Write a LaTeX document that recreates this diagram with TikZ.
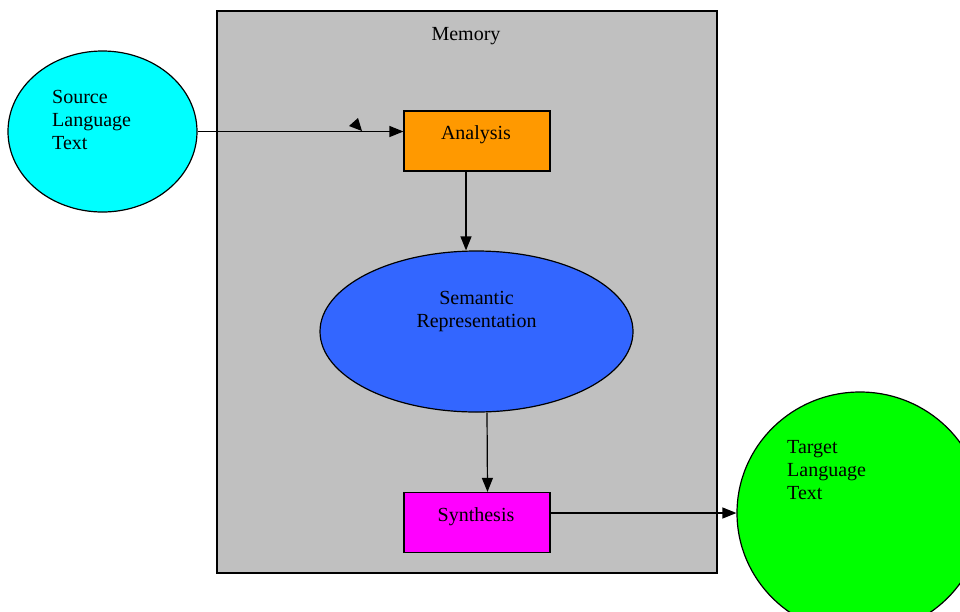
\documentclass[tikz,border=0pt]{standalone}
\usepackage{fontspec}
\setmainfont{Liberation Serif}
\usetikzlibrary{shapes.geometric,arrows.meta}
\definecolor{memgray}{HTML}{C0C0C0}
\definecolor{srccyan}{HTML}{00FFFF}
\definecolor{anaorange}{HTML}{FF9900}
\definecolor{semblue}{HTML}{3366FF}
\definecolor{synmagenta}{HTML}{FF00FF}
\definecolor{tgtgreen}{HTML}{00FF00}
\tikzset{
  outline/.style={draw=black, line width=1.2pt},
  procbox/.style={outline, rectangle, inner sep=0pt, minimum width=146pt, minimum height=60pt},
  blob/.style={outline, ellipse, inner sep=0pt},
  label text/.style={font=\fontsize{20}{23}\selectfont, inner sep=0pt, align=left},
  flow/.style={line width=1.2pt, -{Triangle[length=14pt,width=11pt]}}
}
\begin{document}
\begin{tikzpicture}[x=1pt, y=-1pt]
  \useasboundingbox (0,0) rectangle (960,611);
  \begin{scope}
    \clip (0,0) rectangle (960,611);
    % memory frame
    \node[outline, rectangle, fill=memgray, inner sep=0pt, minimum width=500pt, minimum height=562pt] (memory) at (467,292) {};
    \node[label text, anchor=base] (memorytext) at (466,40) {Memory};
    % source and target texts
    \node[blob, fill=srccyan, minimum width=189pt, minimum height=161pt] (source) at (102.5,131.5) {};
    \node[label text, anchor=north west] (sourcetext) at (52,90) {Source\\Language\\Text};
    \node[blob, fill=tgtgreen, minimum width=246pt, minimum height=242pt] (target) at (860,513) {};
    \node[label text, anchor=north west] (targettext) at (787,440) {Target\\Language\\Text};
    % processing stages
    \node[procbox, fill=anaorange] (analysis) at (477,141) {};
    \node[label text, anchor=base] (analysistext) at (476,139) {Analysis};
    \node[blob, fill=semblue, minimum width=313pt, minimum height=161pt] (semantic) at (476.5,331.5) {};
    \node[label text, anchor=base, align=center] (semantictext) at (476.5,327) {Semantic\\Representation};
    \node[procbox, fill=synmagenta] (synthesis) at (477,522.5) {};
    \node[label text, anchor=base] (synthesistext) at (476,521) {Synthesis};
    % connectors
    \draw[flow] (source.east) -- (source.east -| analysis.west);
    \draw[flow] ([xshift=-11pt]analysis.south) -- ([xshift=-11pt]analysis.south |- semantic.north);
    \draw[flow] ([xshift=10.5pt]semantic.south) -- ([xshift=10.5pt]synthesis.north);
    \draw[flow] (synthesis.east |- target.west) -- (target.west);
    % loose arrowhead above the input line
    \fill (349,126) -- (358,118) -- (362,131) -- cycle;
  \end{scope}
\end{tikzpicture}
\end{document}
